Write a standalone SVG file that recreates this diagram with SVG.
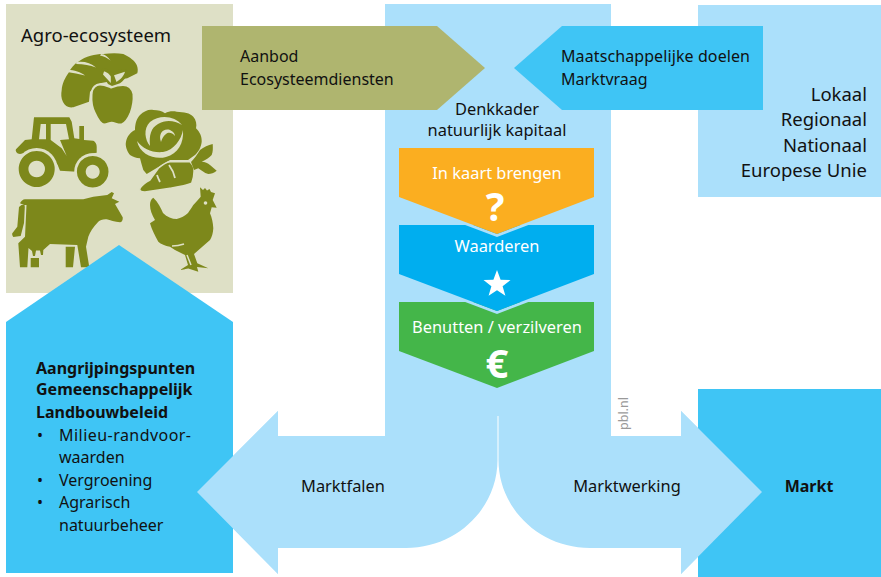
<svg xmlns="http://www.w3.org/2000/svg" width="881" height="577" viewBox="0 0 881 577">
<style>
text{font-family:"Noto Sans","Open Sans","Liberation Sans",sans-serif;font-size:16.400px;fill:#111}
.w{fill:#fff}
.c{text-anchor:middle}
.b{font-weight:700}
.s{font-size:16px}
.l{font-size:18.500px;text-anchor:end}
.i{fill:#7d881b}
.bg{fill:#dee0c6}
.lb{fill:#abe0fb}
.db{fill:#3fc5f5}
</style>
<rect width="881" height="577" fill="#fff"/>
<g id="agro-ecosysteem">
<rect class="bg" x="6" y="4" width="227" height="289"/>
<text x="21" y="42" style="font-size:18.500px">Agro-ecosysteem</text>
<g id="icons">
<path class="i" d="M61.700 90C62 84 65 78 68.300 73.300C71 68 74 64 78.300 61.700C86 56 95 54 103.300 54C111 53 118 53 123.300 54C130 57 135 61 136.700 65C138 68 138 71 137.300 73.300L127.300 78.300L100 83.300L90 91.700L89 101.700L73.300 107.300C68 108 65 106 63 102C61 98 61 94 61.700 90Z"/>
<path class="bg" d="M68 70C74 70 81 72 85 75.500C79 74 73 73 67 72ZM77 62C84 61 91 63 96 67.500C90 65.500 84 64 76 64ZM101 54C105 54 108 57 110.500 60.500C107 58 104 56 100 55.500Z"/>
<path class="i" stroke="#dee0c6" stroke-width="2" d="M111 87.500C105 85 101 83 97 85C93 87 91.500 90 91.500 95C91 102 92 108 95 113.500C97 118 100 124 104 124.500C107 124.500 109 123 111.700 122.700C115 123 118 125 121.700 124.500C126 123 129 117 130.500 113.500C133 107 134 100 133.500 94C132 88 128 85 123 85C118 85 115 86 111 87.500Z"/>
<path class="i" d="M100.700 72.700C101 70 103 68 105 68.300C108 68.500 110 70.500 111.700 72.700L116.700 70.700C119 69.500 122 69 125 69.300C127 70 128 72 127.300 73.300C126 78 123 81 120 83.300L112 86L108 84Z"/>
<path class="bg" d="M104 71.500C106 71.500 109.500 74 110.800 76.500L110.800 83L103 74.500ZM114 75.300L125 71.800C124 76 120 80 116.500 82Z"/>
<path class="i" fill-rule="evenodd" d="M34 117.300H69.300L71.700 121.700L74.300 138.300L79.300 139V126H84V140L93.300 140.700C95.500 142 96.700 144 96.700 146.700V152.700L88.300 154L78.300 163.300L76.700 171.700L60 170.700L57.700 165L51.700 156.700L41.700 149.300L20 154C17 154 15 151 16 149.300L25 140L31.700 139.300ZM40.700 124L39 139.300H46V124ZM50.700 124V140L61.700 148.300L66.700 156L60 140L69 139.300L66 124Z"/>
<circle class="bg" cx="36.700" cy="169" r="21"/>
<circle class="bg" cx="92.700" cy="171.700" r="18.500"/>
<path class="i" fill-rule="evenodd" d="M36.700 151a18 18 0 1 0 .01 0ZM36.700 160.700a8.300 8.300 0 1 1 -.01 0Z"/>
<path class="i" fill-rule="evenodd" d="M92.700 155.900a15.800 15.800 0 1 0 .01 0ZM92.700 164.700a7 7 0 1 1 -.01 0Z"/>
<path class="i" d="M126 141.700C127 136 131 132 135 130C135 123 137 118 140 115C144 111 149 109 153.300 110C158 110 162 111 165 113.300C169 111 173 111 176.700 111.700C184 112 190 113 193.300 116.700C196 120 197 124 196 128.300C200 132 202 137 201.700 141.700C201 148 198 152 195 155L188 160L170 160L146.700 174L143.300 170C142 166 141 162 140 158.300C136 158 133 157 130 155C127 151 125 146 126 141.700Z"/>
<path class="bg" d="M137 141C140 155 155 160 166 157C178 154 184 143 183 130C181 140 174 150 163 152C152 153 143 149 137 141ZM182 125C175 116 160 114 150 122C143 129 145 140 150 146C149 135 151 128 158 124C165 120 174 120 182 125ZM161 142C158 134 163 128 170 130C172 131 175 133 175 136C172 132 168 132 166 134C163 136 162 139 161 142Z"/>
<path class="i" stroke="#dee0c6" stroke-width="1.500" d="M140 188.300C142 185 146 182 150 180L158.300 168.300C162 165 166 162 170 161.700L190 161.700C193 165 195 168 194 171.700C194 176 193 180 191.700 183.300C185 186 178 187 170 188.300L145 192C141 192 139 191 140 188.300Z"/>
<path fill="none" stroke="#dee0c6" stroke-width="1.800" d="M157 175C158 178 159 180 160 182M169 165C172 169 174 173 175 178"/>
<path class="i" d="M191 162C194 159 197 155 200 150C204 147 208 145 212.700 144C213 148 213 152 211.700 155C209 158 206 160 201.700 161.700C205 162 208 163 210 165L216.700 170.700C214 173 211 174 208.300 174C204 173 201 170 198.300 168.300L194 170Z"/>
<path class="i" d="M20 203.300C21 201 23 199.300 25 199.300H83.300L93.300 196.700L107.300 195L111.700 192L114 193.300L111.700 198.300L119.300 201.700L115 204L122.700 217.300C123 220 122 222 120 222.300C115 222 110 220 106.700 219.300C103 219 100 220 98.300 221.700C93 227 90 232 88.300 236.700L86 246.700L89.300 267.300H81L77.300 245L50 244L43.300 250L43 255L41 255L40 250.500L36 250.500L35 256L33 256L32 251L28.500 248L27.300 267.300H20L18.300 243.300L25 236.700L26.500 205H24L20 203.300Z"/>
<path class="i" d="M19 207L21.500 205H24.500L24.800 207L24 223L20.700 236L13.300 237C12 235 12 234 12.300 233.300L17.300 226.700Z"/>
<path class="i" d="M65.700 246.700H75L73 267.300H65.700ZM30.700 258H39V267.300H30.700Z"/>
<path class="i" d="M153.300 197.700C158 202 161 208 163 213C167 217 172 219 176.700 219C181 218 185 216 188 213C190 210 192 207 193.300 205C196 202 198 200 200.700 196.700L200 187.300L203 190L205 188L207 190.500L209.500 189L211 192L215 193.300L212.700 200L216.700 207.700L211.700 207.300L210 213.300C212 218 213 223 213.300 228.300C213 233 212 237 210 240L194 254L197.300 263.300L208.300 268.300L197 267L198.300 271.700L188.300 268.500L180 270L188 265L185 255L175 250L170 246.700C165 246 161 244 158.300 241.700C155 236 152 230 150 223.300L155 220C152 215 150 210 150 205C150 202 151 199 153.300 197.700Z"/>
<path fill="none" stroke="#dee0c6" stroke-width="1.500" d="M187 255L191 265M172 246C177 246 181 245 184 244"/>
<circle class="bg" cx="205.500" cy="203" r="1.800"/>
</g>
</g>
<g id="connectors">
<path id="kolom" class="lb" d="M385 4H611V436H681V411L762 492L681 574V548H590C539 548 498.500 508 498.500 460V416H497.500V460C497.500 508 457 548 406 548H278V574L197 492L278 411V436H385Z"/>
</g>
<g id="aangrijpingspunten">
<path class="db" d="M6 322L119 245L233 322V573H6Z"/>
<text x="36" y="374" class="b s">Aangrijpingspunten</text>
<text x="36" y="395" class="b s">Gemeenschappelijk</text>
<text x="36" y="418" class="b s">Landbouwbeleid</text>
<text x="37" y="441" class="s">•</text><text x="59" y="441" class="s" textLength="132">Milieu-randvoor-</text>
<text x="59" y="463" class="s">waarden</text>
<text x="37" y="486" class="s">•</text><text x="59" y="486" class="s">Vergroening</text>
<text x="37" y="508" class="s">•</text><text x="59" y="508" class="s">Agrarisch</text>
<text x="59" y="531" class="s">natuurbeheer</text>
</g>
<g id="marktfalen-pijl">
<path class="lb" d="M278 411V436H385V548H278V574L197 492Z"/>
<text x="343" y="492" class="c">Marktfalen</text>
</g>
<g id="markt">
<rect class="db" x="698" y="389" width="183" height="188"/>
<path class="lb" d="M681 411L762 492L681 574Z"/>
<text x="809" y="492" class="c b s">Markt</text>
</g>
<g id="marktwerking-pijl">
<text x="627" y="492" class="c">Marktwerking</text>
</g>
<g id="schaal">
<rect class="lb" x="698" y="5" width="183" height="192"/>
<text x="867" y="101" class="l">Lokaal</text>
<text x="867" y="126" class="l">Regionaal</text>
<text x="867" y="152" class="l">Nationaal</text>
<text x="867" y="177" class="l">Europese Unie</text>
</g>
<g id="aanbod">
<path d="M202 26H437L485 68L437 110H202Z" fill="#afb56f"/>
<text x="240" y="62" class="s">Aanbod</text>
<text x="240" y="85" class="s">Ecosysteemdiensten</text>
</g>
<g id="vraag">
<path class="db" d="M514 68L562 26H763V110H562Z"/>
<text x="561" y="62" class="s" textLength="189">Maatschappelijke doelen</text>
<text x="561" y="85" class="s">Marktvraag</text>
</g>
<g id="denkkader">
<text x="497" y="115" class="c">Denkkader</text>
<text x="497" y="136" class="c">natuurlijk kapitaal</text>
</g>
<g id="benutten">
<path d="M399 302H594V351L497 388L399 351Z" fill="#44b649"/>
<text x="497" y="333" class="c w">Benutten / verzilveren</text>
<text x="497" y="378" class="c w b" style="font-size:40px">€</text>
</g>
<g id="waarderen">
<path d="M399 274L497 311L594 274V277L497 314L399 277Z" class="lb"/>
<path d="M399 225H594V274L497 311L399 274Z" fill="#00aeef"/>
<text x="497" y="252" class="c w">Waarderen</text>
<polygon fill="#fff" points="497,270 500.600,279.800 510.500,280 502.600,286.200 505.400,295.800 497,290.200 488.600,295.800 491.400,286.200 483.500,280 493.400,279.800"/>
</g>
<g id="in-kaart-brengen">
<path d="M399 197L497 234L594 197V200L497 237L399 200Z" class="lb"/>
<path d="M399 148H594V197L497 234L399 197Z" fill="#fbae20"/>
<text x="497" y="179" class="c w">In kaart brengen</text>
<text x="495" y="221" class="c w b" style="font-size:39px">?</text>
</g>
<text x="628" y="430" transform="rotate(-90 628 430)" style="font-size:12.500px;fill:#999">pbl.nl</text>
</svg>
